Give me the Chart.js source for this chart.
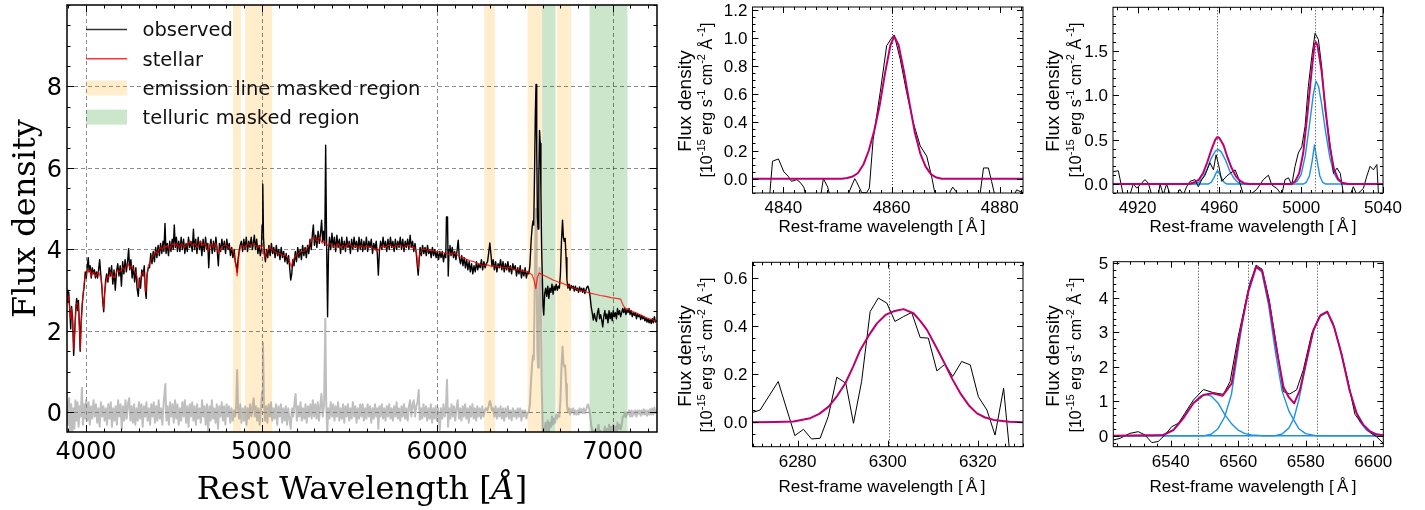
<!DOCTYPE html>
<html><head><meta charset="utf-8">
<script src="https://cdn.jsdelivr.net/npm/chart.js@4.4.0/dist/chart.umd.min.js"></script>
<style>
html,body{margin:0;padding:0;background:#fff;width:1425px;height:510px;overflow:hidden}
.p{position:absolute}
canvas{display:block}
</style></head><body>
<div class="p" style="left:0;top:0"><canvas id="cMain" width="680" height="510"></canvas></div>
<div class="p" style="left:660px;top:0"><canvas id="cA" width="375" height="250"></canvas></div>
<div class="p" style="left:1030px;top:0"><canvas id="cB" width="395" height="250"></canvas></div>
<div class="p" style="left:660px;top:250px"><canvas id="cC" width="375" height="260"></canvas></div>
<div class="p" style="left:1030px;top:250px"><canvas id="cD" width="395" height="260"></canvas></div>
<script>
// ================= DATA =================
// ---- main panel ----
const mainXTicks = [4000, 5000, 6000, 7000];
const mainXTickLabels = ['4000', '5000', '6000', '7000'];
const mainYTicks = [0, 2, 4, 6, 8];
const mainYTickLabels = ['0', '2', '4', '6', '8'];
const legendLabels = ['observed', 'stellar', 'emission line masked region', 'telluric masked region'];
const emissionMaskRegions = [[4837, 4883], [4907, 5061], [6268, 6329], [6515, 6598], [6680, 6762]];
const telluricMaskRegions = [[6598, 6674], [6868, 7084]];

const mainObserved = [
[3892,3.0],[3897,2.7],[3902,2.95],[3908,2.5],[3913,2.05],[3918,2.6],[3924,2.3],[3930,1.4],[3936,2.0],[3942,2.55],[3947,2.8],[3952,2.5],[3957,2.75],[3962,2.2],[3967,1.5],[3972,2.2],[3978,2.6],[3984,2.9],[3990,3.1],[3996,3.45],
[4002,3.3],[4008,3.6],[4013,3.8],[4018,3.45],[4024,3.6],[4030,3.3],[4036,3.55],[4042,3.4],[4048,3.5],[4054,3.3],[4060,3.45],[4066,3.3],[4072,3.5],[4078,3.75],[4084,3.4],[4090,3.1],[4096,2.7],[4101,2.47],[4106,2.9],[4112,3.25],
[4118,3.4],[4125,3.2],[4132,3.55],[4139,3.35],[4146,3.6],[4153,3.15],[4160,3.5],[4167,3.0],[4174,3.45],[4181,3.65],[4188,3.35],[4195,3.6],[4202,3.1],[4209,3.7],[4216,3.4],[4223,3.75],[4230,3.45],[4237,3.7],[4243,4.02],[4249,3.5],[4256,3.75],[4263,3.3],[4270,3.6],[4277,3.2],[4284,3.55],[4291,3.05],[4298,2.85],[4304,3.3],[4311,3.05],[4318,3.5],[4325,3.35],[4332,3.6],[4338,3.0],[4343,2.8],[4348,3.4],[4355,3.55],
[4362,3.55],[4369,3.9],[4376,3.65],[4383,3.95],[4390,3.7],[4397,4.05],[4404,3.8],[4411,4.1],[4418,3.85],[4425,4.15],[4432,3.9],[4439,4.2],[4444,3.95],[4450,4.64],[4456,3.9],[4463,4.15],[4470,3.85],[4477,4.2],[4484,3.95],[4491,4.25],[4497,4.0],[4503,4.6],[4509,4.05],[4515,4.3],[4521,3.95],
[4528,4.2],[4535,3.95],[4542,4.3],[4549,4.0],[4556,4.25],[4563,3.9],[4570,4.15],[4577,3.95],[4584,4.3],[4591,4.05],[4598,4.2],[4605,3.95],[4612,4.5],[4618,4.0],[4625,4.25],[4632,3.9],[4639,4.3],[4646,4.0],[4653,4.2],[4660,3.85],[4667,4.25],[4674,3.95],[4681,4.3],[4688,4.0],[4694,4.15],[4699,3.55],[4705,4.05],[4712,4.25],[4719,3.9],[4726,4.2],[4733,3.95],[4740,4.3],[4747,4.0],[4754,3.6],[4760,4.15],[4767,3.95],[4774,4.25],[4781,4.0],[4788,4.2],[4795,3.9],[4802,4.25],[4809,4.0],[4816,4.15],[4823,3.85],[4830,4.05],
[4837,3.8],[4844,4.0],[4850,3.7],[4856,3.6],[4861,3.45],[4866,3.75],[4872,3.95],[4878,4.1],[4885,4.2],[4892,3.95],[4899,4.25],[4906,4.0],[4913,4.3],[4920,3.95],[4927,4.2],[4934,4.05],[4941,4.3],[4948,4.0],[4953,4.15],[4959,4.35],[4965,4.0],[4972,4.25],[4979,3.9],[4986,4.1],[4993,3.85],[4999,4.0],[5003,4.6],[5007,5.6],[5011,4.3],[5016,3.9],[5022,3.7],[5028,4.0],
[5035,3.8],[5042,4.1],[5049,3.85],[5056,4.15],[5063,3.9],[5070,4.05],[5077,3.8],[5084,4.1],[5091,3.85],[5098,4.0],[5105,3.75],[5112,4.05],[5119,3.8],[5126,3.95],[5133,3.7],[5140,3.9],[5147,3.65],[5154,3.85],[5160,3.55],[5166,3.25],[5172,3.4],[5178,3.75],[5185,3.6],[5192,3.95],[5199,3.7],[5206,4.05],[5213,3.8],[5220,4.0],[5227,3.75],[5234,4.1],[5241,3.85],[5248,4.05],[5255,3.8],[5262,4.1],[5269,3.9],[5276,4.25],[5283,4.0],[5290,4.4],[5295,4.6],[5301,4.1],[5308,4.35],[5315,4.05],[5322,4.45],[5329,4.15],[5336,4.4],[5342,4.72],[5348,4.2],[5354,4.45],[5360,4.1],[5365,6.56],[5370,4.3],[5376,2.35],[5381,3.9],[5387,4.3],
[5394,4.0],[5401,4.4],[5408,4.05],[5415,4.3],[5422,3.95],[5429,4.35],[5436,4.05],[5443,4.25],[5450,3.9],[5457,4.3],[5464,4.0],[5471,4.2],[5478,3.95],[5485,4.3],[5492,4.05],[5499,4.2],[5506,3.9],[5513,4.25],[5520,4.0],[5527,4.3],[5534,4.05],[5541,4.2],[5548,3.95],[5555,4.3],[5562,4.0],[5569,4.25],[5576,3.95],[5583,4.2],[5590,4.0],[5597,4.3],[5604,3.95],[5611,4.2],[5618,4.05],[5625,4.25],[5632,3.9],[5639,4.15],[5646,4.0],[5653,4.2],[5659,3.9],[5665,3.37],[5671,3.95],[5678,4.2],[5685,4.0],[5692,4.3],[5699,4.05],[5706,4.2],[5713,3.95],[5720,4.25],[5727,4.0],[5734,4.3],[5741,4.05],[5748,4.2],[5755,3.95],[5762,4.25],[5769,4.0],[5776,4.2],[5783,4.05],[5790,4.3],[5797,4.0],[5804,4.25],[5811,3.95],[5818,4.2],[5825,4.05],[5832,4.25],[5839,4.0],[5846,4.35],[5853,4.05],[5860,4.2],[5867,3.95],[5874,4.15],[5881,3.9],[5887,3.6],[5892,3.37],[5897,3.7],
[5903,4.05],[5910,3.85],[5917,4.1],[5924,3.9],[5931,4.05],[5938,3.85],[5945,4.1],[5952,3.9],[5959,4.0],[5966,3.8],[5973,4.05],[5980,3.85],[5987,4.0],[5994,3.8],[6001,3.95],[6008,3.75],[6015,3.95],[6022,3.8],[6029,3.95],[6036,3.7],[6043,3.9],[6049,3.8],[6053,4.8],[6059,4.8],[6063,3.35],[6068,4.0],[6073,4.1],[6079,3.85],[6086,4.05],[6093,3.8],
[6100,3.95],[6107,3.75],[6114,4.0],[6120,4.23],[6126,3.8],[6133,3.65],[6140,3.85],[6147,3.6],[6154,3.8],[6161,3.55],[6168,3.75],[6175,3.5],[6182,3.7],[6189,3.45],[6196,3.65],[6203,3.4],[6210,3.6],[6217,3.45],[6224,3.7],[6231,3.5],[6238,3.65],[6245,3.55],[6252,3.75],[6259,3.5],[6266,3.7],[6273,3.55],[6280,3.65],[6287,3.7],[6293,3.9],[6300,4.16],[6306,3.9],[6312,3.6],[6319,3.75],[6326,3.5],[6333,3.7],[6340,3.45],[6347,3.65],[6354,3.55],[6361,3.75],[6368,3.5],[6375,3.7],[6382,3.45],[6389,3.65],[6396,3.5],[6403,3.7],[6410,3.45],[6417,3.6],[6424,3.4],[6431,3.65],[6438,3.5],[6445,3.6],[6452,3.35],[6459,3.55],[6466,3.4],[6473,3.6],[6480,3.3],[6487,3.5],[6494,3.35],[6501,3.55],[6508,3.3],[6515,3.45],[6522,3.4],[6528,3.6],
[6535,4.2],[6541,4.55],[6546,4.7],[6550,4.6],[6555,6.0],[6559,7.3],[6563,8.05],[6567,6.5],[6571,4.8],[6575,4.5],[6579,5.8],[6583,6.92],[6587,6.6],[6591,5.4],[6595,4.0],[6599,3.3],[6603,2.6],[6607,2.39],[6612,2.9],[6618,3.05],[6624,2.85],[6630,3.1],[6636,2.8],[6642,3.05],[6648,2.95],[6654,3.15],[6660,2.9],[6666,3.1],[6672,3.0],[6678,3.15],[6684,3.0],[6690,3.1],[6696,3.05],[6702,3.4],[6708,4.2],[6714,4.72],[6719,4.3],[6724,4.2],[6729,4.27],[6734,3.8],[6739,3.25],
[6745,3.05],[6751,3.15],[6757,3.0],[6763,3.12],[6769,3.05],[6775,3.1],[6781,2.98],[6787,3.1],[6793,3.0],[6799,3.05],[6805,2.95],[6811,3.08],[6817,2.98],[6823,3.05],[6829,2.95],[6835,3.05],[6841,2.92],[6847,3.0],[6853,3.08],[6859,3.1],[6865,3.0],[6871,2.85],[6877,2.6],[6883,2.45],[6889,2.27],[6895,2.43],[6901,2.3],[6907,2.23],[6913,2.45],[6919,2.55],[6925,2.3],[6931,2.4],[6937,2.27],[6943,2.1],[6949,2.35],[6955,2.5],[6961,2.3],[6967,2.42],[6973,2.2],[6979,2.5],[6985,2.3],[6991,2.45],[6997,2.25],[7003,2.5],[7009,2.35],[7015,2.45],[7021,2.3],[7027,2.55],[7033,2.4],[7039,2.5],[7045,2.35],[7051,2.45],[7057,2.55],[7063,2.45],[7069,2.55],[7075,2.4],[7081,2.52],[7087,2.45],[7093,2.55],[7099,2.4],[7105,2.5],[7111,2.35],[7117,2.45],[7123,2.38],[7129,2.45],[7135,2.3],[7141,2.42],[7147,2.35],[7153,2.4],[7159,2.28],[7165,2.38],[7171,2.3],[7177,2.35],[7183,2.25],[7189,2.32],[7195,2.22],[7201,2.3],[7207,2.2],[7213,2.28],[7219,2.18],[7225,2.3],[7231,2.2],[7237,2.35],[7243,2.22],[7252,2.25]
];

const mainStellar = [
[3892,2.9],[3897,2.75],[3902,2.85],[3908,2.5],[3913,2.3],[3918,2.55],[3925,2.15],[3931,1.55],[3937,2.05],[3944,2.65],[3950,2.7],[3956,2.6],[3962,2.15],[3968,1.55],[3974,2.25],[3980,2.75],[3986,3.0],[3993,3.3],[4000,3.35],[4008,3.5],[4016,3.45],[4024,3.5],[4032,3.35],[4040,3.45],[4048,3.4],[4056,3.35],[4064,3.4],[4072,3.45],[4080,3.35],[4088,3.25],[4095,2.85],[4101,2.55],[4107,2.95],[4114,3.2],[4122,3.35],[4130,3.3],[4140,3.45],[4150,3.35],[4160,3.3],[4170,3.4],[4180,3.5],[4190,3.45],[4200,3.5],[4210,3.55],[4220,3.5],[4230,3.6],[4240,3.65],[4250,3.55],[4260,3.6],[4270,3.5],[4280,3.45],[4290,3.35],[4300,3.05],[4308,3.25],[4318,3.4],[4328,3.45],[4336,3.2],[4341,2.95],[4347,3.3],[4355,3.6],[4365,3.7],[4375,3.8],[4385,3.85],[4395,3.95],[4405,3.9],[4415,4.0],[4425,4.05],[4435,4.0],[4445,4.1],[4455,4.05],[4465,4.1],[4475,4.0],[4485,4.1],[4495,4.15],[4505,4.1],[4515,4.15],[4530,4.05],[4545,4.15],[4560,4.05],[4575,4.1],[4590,4.2],[4605,4.1],[4620,4.15],[4635,4.05],[4650,4.2],[4665,4.1],[4680,4.15],[4695,3.95],[4710,4.15],[4725,4.05],[4740,4.15],[4755,3.9],[4770,4.05],[4785,4.1],[4800,4.1],[4815,4.05],[4830,4.0],[4840,3.95],[4850,3.75],[4856,3.55],[4861,3.35],[4866,3.6],[4872,3.9],[4880,4.05],[4890,4.1],[4905,4.05],[4920,4.15],[4935,4.1],[4950,4.15],[4965,4.1],[4980,4.05],[4995,4.1],[5010,3.95],[5020,3.8],[5030,3.95],[5045,4.05],[5060,4.0],[5075,3.95],[5090,3.9],[5105,3.9],[5120,3.85],[5135,3.85],[5150,3.8],[5160,3.7],[5170,3.57],[5180,3.75],[5195,3.85],[5210,3.9],[5225,3.95],[5240,3.95],[5255,4.0],[5270,4.1],[5285,4.25],[5300,4.3],[5315,4.2],[5330,4.3],[5345,4.15],[5360,4.2],[5375,4.1],[5390,4.15],[5405,4.1],[5420,4.05],[5435,4.15],[5450,4.05],[5465,4.1],[5480,4.05],[5495,4.15],[5510,4.1],[5525,4.05],[5540,4.1],[5555,4.05],[5570,4.1],[5585,4.05],[5600,4.1],[5615,4.05],[5630,4.05],[5645,4.0],[5660,3.95],[5675,4.05],[5690,4.1],[5705,4.05],[5720,4.1],[5735,4.1],[5750,4.05],[5765,4.1],[5780,4.1],[5795,4.1],[5810,4.05],[5825,4.1],[5840,4.1],[5855,4.05],[5870,4.05],[5882,3.95],[5892,3.53],[5900,3.9],[5915,4.0],[5930,4.0],[5945,3.98],[5960,3.98],[5975,3.97],[5990,3.95],[6005,3.95],[6020,3.93],[6035,3.92],[6050,3.9],[6065,3.88],[6080,3.9],[6095,3.92],[6110,3.88],[6130,3.82],[6150,3.8],[6170,3.75],[6190,3.72],[6210,3.7],[6230,3.65],[6250,3.62],[6270,3.6],[6290,3.62],[6310,3.58],[6330,3.6],[6350,3.58],[6370,3.57],[6390,3.55],[6410,3.56],[6430,3.52],[6450,3.5],[6470,3.5],[6490,3.47],[6510,3.45],[6525,3.42],[6540,3.38],[6552,3.25],[6562,3.04],[6570,3.3],[6580,3.42],[6600,3.38],[6630,3.32],[6660,3.25],[6690,3.2],[6720,3.16],[6750,3.1],[6780,3.05],[6810,3.0],[6840,2.97],[6870,2.93],[6900,2.9],[6930,2.87],[6960,2.85],[6990,2.82],[7020,2.8],[7045,2.78],[7058,2.64],[7070,2.56],[7090,2.53],[7110,2.48],[7130,2.45],[7150,2.41],[7170,2.37],[7190,2.33],[7210,2.3],[7230,2.27],[7252,2.24]
];

const mainResidual = [
[3892,0.25],[3898,-0.3],[3904,0.35],[3910,-0.45],[3916,0.2],[3922,-0.5],[3928,0.1],[3934,-0.4],[3940,0.3],[3946,-0.2],[3952,0.25],[3958,-0.35],[3964,0.15],[3970,-0.1],[3977,0.6],[3983,-0.3],[3989,0.2],[3995,-0.15],[4001,0.3],[4008,-0.2],[4015,0.25],[4022,-0.3],[4029,0.15],[4036,-0.15],[4043,0.3],[4050,-0.1],[4057,0.2],[4064,-0.25],[4071,0.1],[4078,-0.35],[4085,0.25],[4092,-0.1],[4099,0.15],[4106,-0.2],[4113,0.1],[4120,-0.3],[4127,0.2],[4134,-0.15],[4141,0.25],[4148,-0.35],[4155,0.1],[4162,-0.2],[4169,0.15],[4176,-0.3],[4183,0.3],[4190,-0.1],[4197,0.2],[4204,-0.4],[4211,0.15],[4218,-0.2],[4225,0.3],[4232,-0.15],[4239,0.2],[4246,0.35],[4253,-0.2],[4260,0.15],[4267,-0.25],[4274,0.2],[4281,-0.3],[4288,0.1],[4295,-0.2],[4302,0.25],[4309,-0.15],[4316,0.2],[4323,-0.35],[4330,0.15],[4337,-0.1],[4344,0.25],[4351,-0.2],[4358,0.1],[4365,-0.3],[4372,0.2],[4379,-0.1],[4386,0.25],[4393,-0.25],[4400,0.15],[4407,-0.2],[4414,0.3],[4421,-0.15],[4428,0.1],[4435,-0.3],[4442,0.2],[4452,0.7],[4458,-0.2],[4465,0.15],[4472,-0.3],[4479,0.25],[4486,-0.1],[4493,0.2],[4500,-0.25],[4507,0.3],[4514,-0.15],[4521,0.2],[4528,-0.3],[4535,0.1],[4542,-0.2],[4549,0.25],[4556,-0.1],[4563,0.3],[4570,-0.25],[4577,0.15],[4584,-0.35],[4591,0.2],[4598,-0.1],[4605,0.25],[4612,-0.2],[4619,0.15],[4626,-0.3],[4633,0.2],[4640,-0.15],[4647,0.1],[4654,-0.25],[4661,0.3],[4668,-0.1],[4675,0.15],[4682,-0.3],[4689,0.2],[4696,-0.45],[4703,0.15],[4710,-0.2],[4717,0.3],[4724,-0.15],[4731,0.1],[4738,-0.25],[4745,0.2],[4752,-0.4],[4759,0.15],[4766,-0.1],[4773,0.25],[4780,-0.2],[4787,0.15],[4794,-0.3],[4801,0.2],[4808,-0.1],[4815,0.15],[4822,-0.25],[4829,0.1],[4836,-0.2],[4843,0.05],[4850,-0.1],[4856,0.2],[4861,1.04],[4866,0.1],[4872,-0.15],[4879,0.2],[4886,-0.25],[4893,0.1],[4900,-0.2],[4907,0.15],[4914,-0.3],[4921,0.1],[4928,-0.15],[4935,0.2],[4942,-0.1],[4949,0.15],[4955,0.35],[4961,-0.1],[4968,0.15],[4975,-0.2],[4982,0.1],[4989,-0.3],[4996,0.05],[5003,0.5],[5008,1.71],[5013,0.3],[5019,-0.2],[5026,0.15],[5033,-0.25],[5040,0.2],[5047,-0.1],[5054,0.25],[5061,-0.2],[5068,0.1],[5075,-0.15],[5082,0.2],[5089,-0.3],[5096,0.15],[5103,-0.1],[5110,0.2],[5117,-0.25],[5124,0.1],[5131,-0.2],[5138,0.15],[5145,-0.3],[5152,0.1],[5159,-0.15],[5166,-0.4],[5173,0.1],[5180,-0.1],[5187,0.2],[5194,0.45],[5201,-0.2],[5208,0.15],[5215,-0.1],[5222,0.25],[5229,-0.2],[5236,0.1],[5243,-0.15],[5250,0.2],[5257,-0.25],[5264,0.15],[5271,-0.1],[5278,0.2],[5285,-0.15],[5292,0.3],[5299,-0.1],[5306,0.2],[5313,-0.15],[5320,0.25],[5327,-0.2],[5334,0.15],[5341,0.45],[5348,-0.1],[5356,0.2],[5363,2.3],[5368,0.3],[5374,-0.5],[5380,0.1],[5387,-0.15],[5394,0.25],[5401,-0.1],[5408,0.2],[5415,-0.2],[5422,0.15],[5429,-0.1],[5436,0.25],[5443,-0.2],[5450,0.1],[5457,-0.15],[5464,0.2],[5471,-0.25],[5478,0.15],[5485,-0.1],[5492,0.2],[5499,-0.2],[5506,0.1],[5513,-0.15],[5520,0.25],[5527,-0.1],[5534,0.15],[5541,-0.25],[5548,0.1],[5555,-0.15],[5562,0.2],[5569,-0.1],[5576,0.2],[5583,-0.2],[5590,0.1],[5597,-0.15],[5604,0.2],[5611,-0.1],[5618,0.15],[5625,-0.25],[5632,0.1],[5639,-0.15],[5646,0.2],[5653,-0.1],[5660,0.1],[5665,-0.4],[5671,0.15],[5678,-0.1],[5685,0.2],[5692,-0.15],[5699,0.1],[5706,-0.2],[5713,0.15],[5720,-0.1],[5727,0.2],[5734,-0.15],[5741,0.1],[5748,-0.2],[5755,0.15],[5762,-0.1],[5769,0.25],[5776,-0.15],[5783,0.1],[5790,-0.2],[5797,0.15],[5804,-0.1],[5811,0.2],[5818,-0.15],[5825,0.1],[5832,-0.2],[5839,0.15],[5846,0.3],[5853,-0.1],[5860,0.2],[5867,0.3],[5874,-0.1],[5881,0.15],[5888,0.25],[5895,0.55],[5901,-0.18],[5908,0.1],[5915,-0.15],[5922,0.2],[5929,-0.1],[5936,0.15],[5943,-0.2],[5950,0.1],[5957,-0.15],[5964,0.2],[5971,-0.25],[5978,0.1],[5985,-0.15],[5992,0.15],[5999,-0.2],[6006,0.1],[6015,-0.43],[6022,0.1],[6029,-0.15],[6036,0.2],[6043,-0.1],[6050,0.1],[6056,0.8],[6062,-0.35],[6068,0.1],[6075,-0.15],[6082,0.2],[6089,-0.1],[6096,0.15],[6103,-0.2],[6110,0.1],[6117,0.3],[6124,-0.15],[6131,0.1],[6138,-0.2],[6145,0.15],[6152,-0.1],[6159,0.2],[6166,-0.15],[6173,0.1],[6180,-0.25],[6187,0.15],[6194,-0.1],[6201,0.2],[6208,-0.15],[6215,0.1],[6222,-0.2],[6229,0.15],[6236,-0.1],[6243,0.1],[6250,-0.15],[6257,0.15],[6264,-0.1],[6271,0.05],[6278,0.1],[6286,0.05],[6293,0.15],[6300,0.28],[6306,0.2],[6312,0.05],[6319,0.1],[6326,-0.1],[6333,0.15],[6340,-0.15],[6347,0.1],[6354,-0.1],[6361,0.15],[6368,-0.15],[6375,0.1],[6382,-0.2],[6389,0.1],[6396,-0.1],[6403,0.15],[6410,-0.15],[6417,0.05],[6424,-0.2],[6431,0.1],[6438,-0.1],[6445,0.05],[6452,-0.15],[6459,0.1],[6466,-0.1],[6473,0.1],[6480,-0.2],[6487,0.05],[6494,-0.1],[6501,0.05],[6508,-0.15],[6515,0.0],[6522,0.0],[6528,0.2],[6535,0.8],[6541,1.2],[6546,1.4],[6550,1.3],[6555,2.8],[6559,4.2],[6563,5.0],[6567,3.3],[6571,1.5],[6575,1.1],[6579,2.4],[6583,3.55],[6587,3.25],[6591,2.1],[6595,0.7],[6599,-0.05],[6603,-0.75],[6607,-0.95],[6612,-0.4],[6618,-0.25],[6624,-0.45],[6630,-0.2],[6636,-0.5],[6642,-0.25],[6648,-0.35],[6654,-0.1],[6660,-0.3],[6666,-0.15],[6672,-0.25],[6678,-0.05],[6684,-0.15],[6690,-0.05],[6696,-0.1],[6702,0.3],[6708,1.1],[6714,1.61],[6719,1.2],[6724,1.12],[6729,1.15],[6734,0.7],[6739,0.2],[6745,0.0],[6751,0.1],[6757,-0.05],[6763,0.08],[6769,0.0],[6775,0.1],[6781,-0.05],[6787,0.05],[6793,-0.05],[6799,0.05],[6805,-0.05],[6811,0.1],[6817,0.0],[6823,0.08],[6829,-0.02],[6835,0.1],[6841,-0.02],[6847,0.05],[6853,0.15],[6859,0.2],[6865,0.1],[6871,-0.05],[6877,-0.3],[6883,-0.45],[6889,-0.6],[6895,-0.45],[6901,-0.55],[6907,-0.6],[6913,-0.4],[6919,-0.3],[6925,-0.55],[6931,-0.45],[6937,-0.58],[6943,-0.7],[6949,-0.5],[6955,-0.35],[6961,-0.5],[6967,-0.4],[6973,-0.6],[6979,-0.3],[6985,-0.5],[6991,-0.35],[6997,-0.55],[7003,-0.3],[7009,-0.45],[7015,-0.35],[7021,-0.5],[7027,-0.25],[7033,-0.4],[7039,-0.3],[7045,-0.42],[7051,-0.3],[7057,-0.1],[7063,-0.1],[7069,0.0],[7075,-0.12],[7081,0.0],[7087,-0.05],[7093,0.05],[7099,-0.1],[7105,0.05],[7111,-0.1],[7117,0.03],[7123,-0.05],[7129,0.05],[7135,-0.1],[7141,0.05],[7147,-0.03],[7153,0.05],[7159,-0.08],[7165,0.05],[7171,-0.05],[7177,0.08],[7183,-0.05],[7189,0.05],[7195,-0.08],[7201,0.05],[7207,-0.05],[7213,0.08],[7219,-0.05],[7225,0.1],[7231,-0.05],[7237,0.12],[7243,-0.02],[7252,0.05]
];

// ---- H-beta panel ----
const hbXTicks = [4840, 4860, 4880];
const hbYTicks = [0, 0.2, 0.4, 0.6, 0.8, 1.0, 1.2];
const hbYTickLabels = ['0.0', '0.2', '0.4', '0.6', '0.8', '1.0', '1.2'];
const hbLineCenters = [4860.1];
const hbObserved = [[4834.3,-0.3],[4837.3,-0.2],[4838.0,0.124],[4839.1,0.14],[4840.1,0.048],[4840.9,0.017],[4841.5,-0.019],[4842.5,-0.007],[4843.1,-0.026],[4843.8,-0.062],[4844.3,-0.15],[4845.3,-0.35],[4846.6,-0.2],[4847.4,0.0],[4848.2,-0.06],[4848.8,-0.15],[4850.3,-0.3],[4852.1,-0.1],[4853.2,0.0],[4853.5,-0.02],[4854.5,-0.1],[4855.4,-0.1],[4855.9,-0.067],[4856.6,0.279],[4857.9,0.612],[4859.1,0.945],[4860.1,1.004],[4860.5,1.021],[4861.6,0.85],[4862.8,0.612],[4864.0,0.4],[4865.3,0.233],[4866.5,0.16],[4867.4,0.017],[4868.0,-0.1],[4869.3,-0.3],[4870.8,-0.095],[4871.3,-0.06],[4872.0,-0.095],[4873.3,-0.3],[4876.4,-0.1],[4877.0,0.076],[4877.9,0.076],[4878.5,-0.02],[4879.1,-0.12],[4880.8,-0.3],[4883.1,-0.08],[4884.3,-0.1]];
const hbFit = [[4834.3,0],[4850.8,0],[4851.8,0.005],[4852.8,0.015],[4853.8,0.04],[4854.8,0.1],[4855.8,0.2],[4856.8,0.34],[4857.8,0.52],[4858.8,0.75],[4859.8,0.95],[4860.5,1.01],[4861.3,0.95],[4862.3,0.76],[4863.3,0.54],[4864.3,0.33],[4865.3,0.18],[4866.3,0.085],[4867.3,0.03],[4868.3,0.008],[4869.3,0],[4884.3,0]];

// ---- [OIII] panel ----
const o3XTicks = [4920, 4960, 5000, 5040];
const o3YTicks = [0, 0.5, 1.0, 1.5];
const o3YTickLabels = ['0.0', '0.5', '1.0', '1.5'];
const o3LineCenters = [4958.9, 5006.8];
const o3Observed = [[4908.2,0.14],[4910.6,0.15],[4913.0,-0.12],[4916.3,-0.12],[4917.9,0.0],[4919.6,-0.045],[4921.2,-0.01],[4923.6,0.05],[4925.3,0.01],[4926.9,-0.12],[4930.2,-0.12],[4931.0,0.0],[4932.6,-0.12],[4934.2,0.0],[4935.9,-0.12],[4939.1,-0.12],[4940.7,-0.06],[4942.4,-0.12],[4944.0,-0.03],[4945.6,0.03],[4948.1,0.05],[4949.7,-0.03],[4951.4,0.05],[4953.0,0.1],[4955.4,0.24],[4957.1,0.16],[4958.4,0.33],[4959.6,0.22],[4961.2,0.03],[4963.6,0.09],[4965.2,0.12],[4967.7,0.16],[4969.3,0.07],[4971.7,-0.12],[4975.0,-0.12],[4978.3,-0.06],[4981.5,0.05],[4984.0,0.1],[4985.6,-0.01],[4988.1,-0.05],[4990.5,-0.12],[4992.1,0.05],[4993.8,0.07],[4995.4,-0.01],[4997.0,0.2],[4998.6,0.35],[5000.3,0.42],[5001.9,0.65],[5003.5,1.1],[5005.2,1.44],[5006.8,1.70],[5008.4,1.63],[5010.0,1.33],[5011.7,0.84],[5013.3,0.58],[5014.9,0.31],[5015.8,0.12],[5017.5,0.18],[5019.1,0.12],[5020.7,-0.12],[5024,-0.12],[5025.5,-0.03],[5027.2,-0.12],[5030.4,-0.05],[5032.1,0.09],[5033.7,0.2],[5035.3,0.16],[5037.0,0.22],[5037.8,-0.12],[5040,-0.12]];
const o3Fit = [[4908,0],[4945,0],[4948,0.02],[4950,0.05],[4952,0.12],[4954,0.24],[4956,0.38],[4958,0.5],[4959,0.53],[4960,0.52],[4962,0.44],[4964,0.3],[4966,0.18],[4968,0.09],[4970,0.04],[4972,0.01],[4975,0],[4995,0],[4997,0.03],[4999,0.12],[5001,0.35],[5003,0.78],[5005,1.25],[5006.5,1.57],[5007.2,1.6],[5008,1.56],[5010,1.27],[5012,0.82],[5014,0.42],[5016,0.17],[5018,0.06],[5020,0.015],[5023,0],[5040,0]];
const o3BroadComponent = [[4908,0],[4947,0],[4950,0.02],[4952,0.07],[4954,0.17],[4956,0.29],[4958,0.37],[4959.5,0.39],[4961,0.36],[4963,0.27],[4965,0.15],[4967,0.07],[4969,0.02],[4971,0],[4995,0],[4998,0.03],[5000,0.11],[5002,0.32],[5004,0.66],[5006,1.02],[5007.2,1.16],[5008.5,1.1],[5010,0.9],[5012,0.58],[5014,0.3],[5016,0.12],[5018,0.04],[5021,0],[5040,0]];
const o3NarrowComponent = [[4908,0],[4954.5,0],[4956,0.02],[4957.3,0.07],[4958.3,0.12],[4959.1,0.15],[4960,0.12],[4961,0.07],[4962.3,0.02],[4963.8,0],[5001,0],[5002.5,0.02],[5004,0.09],[5005.3,0.25],[5006.5,0.44],[5007.8,0.26],[5009.1,0.09],[5010.5,0.02],[5012,0],[5040,0]];

// ---- [OI] panel ----
const oiXTicks = [6280, 6300, 6320];
const oiYTicks = [0, 0.2, 0.4, 0.6];
const oiYTickLabels = ['0.0', '0.2', '0.4', '0.6'];
const oiLineCenters = [6300.3];
const oiObserved = [[6270.0,0.041],[6271.7,0.051],[6275.7,0.169],[6279.4,-0.055],[6281.3,-0.029],[6283.1,-0.069],[6285.0,-0.066],[6286.8,0.024],[6288.7,0.187],[6290.7,0.162],[6292.4,-0.004],[6294.2,0.169],[6296.1,0.459],[6297.9,0.515],[6299.8,0.494],[6301.6,0.418],[6303.5,0.438],[6305.3,0.455],[6307.2,0.351],[6309.0,0.349],[6310.9,0.213],[6312.7,0.241],[6314.4,0.19],[6316.4,0.252],[6318.3,0.238],[6320.1,0.106],[6322.0,0.051],[6323.8,-0.053],[6325.7,0.141],[6327.0,-0.115],[6328.5,-0.3],[6330,-0.3]];
const oiFit = [[6270,0],[6275,0.001],[6279.1,0.003],[6282.8,0.017],[6284.8,0.035],[6286.9,0.065],[6288.8,0.11],[6290.6,0.162],[6292.3,0.23],[6293.9,0.3],[6295.8,0.36],[6297.6,0.41],[6299.5,0.445],[6301.3,0.46],[6303.5,0.469],[6305.7,0.452],[6307.2,0.42],[6308.7,0.383],[6310.5,0.32],[6312.4,0.252],[6314.3,0.18],[6316.1,0.12],[6318,0.07],[6319.8,0.037],[6321.6,0.02],[6323.5,0.01],[6327,0.002],[6330,0]];

// ---- H-alpha + [NII] panel ----
const haXTicks = [6540, 6560, 6580, 6600];
const haYTicks = [0, 1, 2, 3, 4, 5];
const haYTickLabels = ['0', '1', '2', '3', '4', '5'];
const haLineCenters = [6548.0, 6562.8, 6583.5];
const haObserved = [[6523.0,-0.126],[6525.0,-0.077],[6527.9,0.068],[6530.4,0.116],[6532.4,0.02],[6534.4,-0.2],[6536.3,-0.17],[6538.3,0.02],[6540.3,0.26],[6542.3,0.36],[6544.2,0.65],[6546.7,1.03],[6549.7,1.34],[6552.6,1.25],[6555.6,1.2],[6557.6,1.57],[6560.0,2.87],[6563.0,4.23],[6565.3,4.95],[6567.1,4.83],[6569.2,3.94],[6571.4,2.58],[6573.4,1.28],[6575.3,1.21],[6577.3,1.33],[6579.3,1.91],[6581.8,2.97],[6584.2,3.47],[6586.4,3.6],[6588.4,3.16],[6590.7,2.34],[6592.5,1.6],[6594.6,0.62],[6596.6,0.36],[6599.1,0.09],[6601.0,-0.03],[6603.0,-0.22]];
const haFit = [[6523,0],[6537.8,0.02],[6540.8,0.16],[6543.7,0.5],[6546.7,0.94],[6549.7,1.18],[6552.4,1.23],[6555.4,1.16],[6558.1,1.52],[6560.5,2.97],[6563.0,4.18],[6565.3,4.9],[6567.1,4.79],[6569.2,3.84],[6571.4,2.49],[6573.4,1.42],[6574.9,1.13],[6576.6,0.94],[6578.3,1.33],[6580.3,2.2],[6582.3,3.07],[6584.4,3.5],[6586.4,3.6],[6588.4,3.16],[6590.7,2.34],[6593.0,1.32],[6595.1,0.65],[6597.1,0.31],[6599.1,0.12],[6601.0,0.04],[6603,0.01]];
const haNII6548 = [[6523,0],[6535,0],[6538,0.03],[6541,0.18],[6543,0.42],[6545,0.7],[6547,0.98],[6549,1.16],[6550.5,1.2],[6552,1.15],[6554,0.95],[6556,0.62],[6558,0.35],[6560,0.16],[6562,0.06],[6564,0.02],[6567,0],[6603,0]];
const haHalpha = [[6523,0],[6550,0],[6552,0.04],[6554,0.2],[6556,0.55],[6558,1.2],[6560,2.5],[6562,3.75],[6563.5,4.45],[6565.3,4.88],[6567,4.75],[6569,3.8],[6571,2.45],[6573,1.3],[6575,0.72],[6576.5,0.45],[6578,0.2],[6580,0.06],[6583,0],[6603,0]];
const haNII6583 = [[6523,0],[6571,0],[6573,0.05],[6575,0.22],[6576.5,0.5],[6578,1.05],[6580,2.05],[6582,2.95],[6584,3.45],[6586.4,3.58],[6588,3.3],[6590,2.6],[6592,1.75],[6594,0.95],[6596,0.42],[6598,0.16],[6600,0.05],[6603,0.01]];

// ================= DRAWING =================
const toXY = a => a.map(p => ({x: p[0], y: p[1]}));
const SANS = '"Liberation Sans", Arial, Helvetica, sans-serif';
const C_ORANGE = 'rgba(255,165,0,0.2)';
const C_GREEN = 'rgba(0,128,0,0.2)';
const C_BLACK = '#000';
const C_RED = 'rgba(255,0,0,0.8)';
const C_GRAY = 'rgba(128,128,128,0.5)';
const C_MAG = 'rgb(190,0,110)';
const C_BLUE = 'rgb(30,144,230)';

function drawRich(ctx, segs, x, y, rot) {
  ctx.save();
  ctx.translate(x, y);
  ctx.rotate(rot || 0);
  ctx.textAlign = 'left';
  ctx.textBaseline = 'alphabetic';
  let w = 0;
  segs.forEach(s => { ctx.font = s.font; s.w = ctx.measureText(s.t).width; w += s.w; });
  let cx = -w / 2;
  segs.forEach(s => { ctx.font = s.font; ctx.fillText(s.t, cx, -(s.dy || 0)); cx += s.w; });
  ctx.restore();
}

function decor(o) {
  return {
    id: 'decor',
    beforeDatasetsDraw(chart) {
      const ctx = chart.ctx, a = chart.chartArea, xs = chart.scales.x, ys = chart.scales.y;
      ctx.save();
      ctx.beginPath(); ctx.rect(a.left, a.top, a.right - a.left, a.bottom - a.top); ctx.clip();
      (o.bands || []).forEach(b => {
        ctx.fillStyle = b.color;
        b.regions.forEach(r => {
          const x0 = xs.getPixelForValue(r[0]), x1 = xs.getPixelForValue(r[1]);
          ctx.fillRect(x0, a.top, x1 - x0, a.bottom - a.top);
        });
      });
      if (o.grid) {
        ctx.strokeStyle = 'rgba(0,0,0,0.45)'; ctx.lineWidth = 1; ctx.setLineDash([4, 3]);
        o.xTicks.forEach(v => { const p = Math.round(xs.getPixelForValue(v)) + 0.5; ctx.beginPath(); ctx.moveTo(p, a.top); ctx.lineTo(p, a.bottom); ctx.stroke(); });
        o.yTicks.forEach(v => { const p = Math.round(ys.getPixelForValue(v)) + 0.5; ctx.beginPath(); ctx.moveTo(a.left, p); ctx.lineTo(a.right, p); ctx.stroke(); });
      }
      if (o.refLines) {
        ctx.strokeStyle = '#333'; ctx.lineWidth = 1; ctx.setLineDash([1, 2]);
        o.refLines.forEach(v => { const p = Math.round(xs.getPixelForValue(v)) + 0.5; ctx.beginPath(); ctx.moveTo(p, a.top); ctx.lineTo(p, a.bottom); ctx.stroke(); });
      }
      ctx.restore();
    },
    afterDatasetsDraw(chart) {
      const ctx = chart.ctx, a = chart.chartArea, xs = chart.scales.x, ys = chart.scales.y;
      ctx.save();
      ctx.setLineDash([]);
      ctx.strokeStyle = '#000';
      ctx.lineWidth = 1;
      const seg = (x0, y0, x1, y1) => { ctx.beginPath(); ctx.moveTo(x0, y0); ctx.lineTo(x1, y1); ctx.stroke(); };
      const near = (v, arr, e) => arr.some(t => Math.abs(t - v) < e);
      for (let n = Math.ceil(xs.min / o.xMinor - 1e-9); n * o.xMinor <= xs.max + 1e-9; n++) {
        const v = n * o.xMinor; const L = near(v, o.xTicks, o.xMinor * 0.01) ? o.majorLen : o.minorLen;
        const p = Math.round(xs.getPixelForValue(v)) + 0.5;
        seg(p, a.bottom, p, a.bottom - L); seg(p, a.top, p, a.top + L);
      }
      for (let n = Math.ceil(ys.min / o.yMinor - 1e-9); n * o.yMinor <= ys.max + 1e-9; n++) {
        const v = n * o.yMinor; const L = near(v, o.yTicks, o.yMinor * 0.01) ? o.majorLen : o.minorLen;
        const p = Math.round(ys.getPixelForValue(v)) + 0.5;
        seg(a.left, p, a.left + L, p); seg(a.right, p, a.right - L, p);
      }
      ctx.lineWidth = o.frameWidth;
      ctx.strokeRect(a.left, a.top, a.right - a.left, a.bottom - a.top);
      ctx.fillStyle = '#000';
      ctx.font = o.tickFont;
      ctx.textBaseline = 'alphabetic';
      ctx.textAlign = 'center';
      o.xTicks.forEach((v, i) => ctx.fillText(o.xLabels[i], xs.getPixelForValue(v), a.bottom + o.xLabelDy));
      ctx.textAlign = 'right';
      o.yTicks.forEach((v, i) => ctx.fillText(o.yLabels[i], a.left - o.yLabelGap, ys.getPixelForValue(v) + o.yLabelDy));
      (o.texts || []).forEach(t => drawRich(ctx, t.segs, t.x, t.y, t.rot));
      if (o.legend) {
        const L = o.legend;
        L.items.forEach((it, i) => {
          const y = L.y0 + i * L.dy;
          if (it.kind === 'line') {
            ctx.strokeStyle = it.color; ctx.lineWidth = 1.6;
            seg(L.x0, y, L.x1, y);
          } else {
            ctx.fillStyle = it.color;
            ctx.fillRect(L.x0, y - 7.5, L.x1 - L.x0, 15);
          }
          ctx.fillStyle = '#111'; ctx.font = L.font; ctx.textAlign = 'left'; ctx.textBaseline = 'alphabetic';
          ctx.fillText(it.label, L.tx, y + L.baseDy);
        });
      }
      ctx.restore();
    }
  };
}

function lineDs(data, color, width) {
  return { data: toXY(data), borderColor: color, borderWidth: width, pointRadius: 0, fill: false, tension: 0, borderJoinStyle: 'round', borderCapStyle: 'round' };
}

function makeChart(id, pad, xr, yr, datasets, deco) {
  return new Chart(document.getElementById(id).getContext('2d'), {
    type: 'line',
    data: { datasets },
    options: {
      responsive: false, animation: false, devicePixelRatio: 1,
      layout: { padding: pad },
      plugins: { legend: { display: false }, tooltip: { enabled: false } },
      events: [],
      scales: {
        x: { type: 'linear', min: xr[0], max: xr[1], display: false },
        y: { type: 'linear', min: yr[0], max: yr[1], display: false }
      }
    },
    plugins: [deco]
  });
}

// ---- main ----
makeChart('cMain', {left: 67, top: 5, right: 23, bottom: 78}, [3892, 7252], [-0.48, 10],
  [lineDs(mainStellar, C_RED, 1.2), lineDs(mainObserved, C_BLACK, 1.4), lineDs(mainResidual, C_GRAY, 2)],
  decor({
    bands: [{regions: emissionMaskRegions, color: C_ORANGE}, {regions: telluricMaskRegions, color: C_GREEN}],
    grid: true, xTicks: mainXTicks, yTicks: mainYTicks, xLabels: mainXTickLabels, yLabels: mainYTickLabels,
    xMinor: 100, yMinor: 0.5, majorLen: 7, minorLen: 3.5, frameWidth: 1.5,
    tickFont: '24px "DejaVu Sans"', xLabelDy: 27, yLabelGap: 5, yLabelDy: 8.7,
    texts: [
      {segs: [{t: 'Rest Wavelength [', font: '32px "DejaVu Serif"'}, {t: 'Å', font: 'italic 32px "DejaVu Serif"'}, {t: ']', font: '32px "DejaVu Serif"'}], x: 362, y: 499},
      {segs: [{t: 'Flux density', font: '32px "DejaVu Serif"'}], x: 35, y: 218.5, rot: -Math.PI / 2}
    ],
    legend: {
      x0: 86, x1: 127, tx: 142.5, y0: 29.5, dy: 29.2, baseDy: 6.8, font: '19.5px "DejaVu Sans"',
      items: [
        {kind: 'line', color: 'rgba(0,0,0,0.8)', label: legendLabels[0]},
        {kind: 'line', color: C_RED, label: legendLabels[1]},
        {kind: 'patch', color: C_ORANGE, label: legendLabels[2]},
        {kind: 'patch', color: C_GREEN, label: legendLabels[3]}
      ]
    }
  }));

// ---- small panels ----
function yTitle(xMain, xSub, yc) {
  const b = '16px ' + SANS, s = '11px ' + SANS;
  return [
    {segs: [{t: 'Flux density', font: '19px ' + SANS}], x: xMain, y: yc, rot: -Math.PI / 2},
    {segs: [{t: '[10', font: b}, {t: '-15', font: s, dy: 6.5}, {t: ' erg s', font: b}, {t: '-1', font: s, dy: 6.5}, {t: ' cm', font: b}, {t: '-2', font: s, dy: 6.5}, {t: ' Å', font: b}, {t: '\u2009-1', font: s, dy: 6.5}, {t: ']', font: b}], x: xSub, y: yc - 1, rot: -Math.PI / 2}
  ];
}
function xTitle(xc, yb) {
  return {segs: [{t: 'Rest-frame wavelength [\u2009Å\u2009]', font: '17px ' + SANS}], x: xc, y: yb};
}
function smallDecor(xTicks, yTicks, yLabels, xMinor, yMinor, refLines, texts) {
  return decor({
    refLines, xTicks, yTicks, xLabels: xTicks.map(String), yLabels,
    xMinor, yMinor, majorLen: 6, minorLen: 3, frameWidth: 1,
    tickFont: '17px ' + SANS, xLabelDy: 20, yLabelGap: 5, yLabelDy: 6,
    texts
  });
}

makeChart('cA', {left: 92.5, top: 7, right: 12, bottom: 57}, [4834.3, 4884.3], [-0.102, 1.22],
  [lineDs(hbFit, C_MAG, 2), lineDs(hbObserved, '#000', 1)],
  smallDecor(hbXTicks, hbYTicks, hbYTickLabels, 2, 0.05, hbLineCenters,
    [xTitle(222, 232.3)].concat(yTitle(30.5, 51.7, 101))));

makeChart('cB', {left: 83, top: 7.3, right: 42, bottom: 57}, [4908, 5040], [-0.101, 1.993],
  [lineDs(o3Fit, C_MAG, 2), lineDs(o3Observed, '#000', 1), lineDs(o3BroadComponent, C_BLUE, 1.4), lineDs(o3NarrowComponent, C_BLUE, 1.4)],
  smallDecor(o3XTicks, o3YTicks, o3YTickLabels, 5, 0.1, o3LineCenters,
    [xTitle(223, 232.3)].concat(yTitle(29, 50.7, 101))));

makeChart('cC', {left: 92.5, top: 12.3, right: 12, bottom: 63.3}, [6270, 6330], [-0.101, 0.663],
  [lineDs(oiFit, C_MAG, 2), lineDs(oiObserved, '#000', 1)],
  smallDecor(oiXTicks, oiYTicks, oiYTickLabels, 2, 0.05, oiLineCenters,
    [xTitle(222, 242.3)].concat(yTitle(30.5, 51.7, 106))));

makeChart('cD', {left: 83.3, top: 11.7, right: 41.7, bottom: 63.3}, [6523, 6603], [-0.32, 5.05],
  [lineDs(haFit, C_MAG, 2), lineDs(haObserved, '#000', 1), lineDs(haNII6548, C_BLUE, 1.4), lineDs(haHalpha, C_BLUE, 1.4), lineDs(haNII6583, C_BLUE, 1.4)],
  smallDecor(haXTicks, haYTicks, haYTickLabels, 4, 0.2, haLineCenters,
    [xTitle(223, 241.7)].concat(yTitle(29, 50.7, 106))));
</script>
</body></html>
